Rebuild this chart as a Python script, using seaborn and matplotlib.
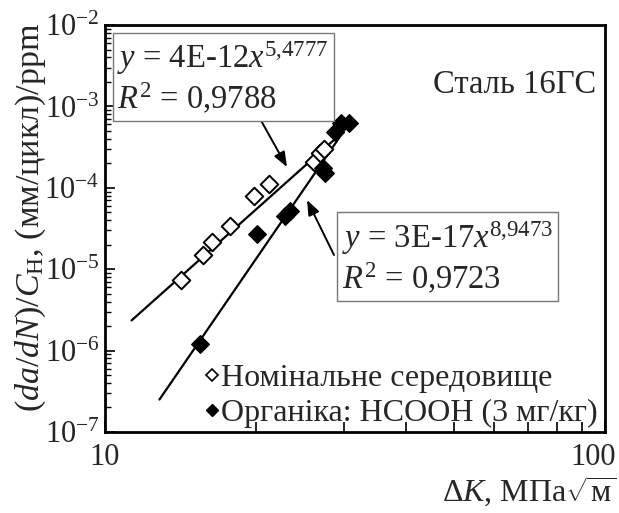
import numpy as np
import pandas as pd
import matplotlib
matplotlib.use("Agg")
import matplotlib.pyplot as plt
import seaborn as sns
from matplotlib.lines import Line2D
from matplotlib.ticker import FixedLocator, FixedFormatter, NullFormatter
from matplotlib.transforms import ScaledTranslation

# --- data ---
dk_nominal = [14.2, 15.7, 16.4, 17.8, 19.9, 21.3, 26.2, 26.9, 27.4]
rate_nominal = [7.3e-6, 1.5e-5, 2.15e-5, 3.4e-5, 7.9e-5, 1.1e-4, 2.1e-4, 2.7e-4, 3.0e-4]

dk_organic = [15.5, 20.1, 22.9, 23.4, 27.3, 27.5, 28.8, 29.7, 30.8]
rate_organic = [1.2e-6, 2.7e-5, 4.5e-5, 5.2e-5, 1.75e-4, 1.5e-4, 4.9e-4, 6.2e-4, 6.2e-4]

# power-law fits shown on the chart: y = a * x^b
fit_nominal = (4e-12, 5.4777, 11.3, 29.0)
fit_organic = (3e-17, 8.9473, 12.85, 31.0)

x_ticks = [10, 100]
x_tick_labels = ["10", "100"]

label_nominal = "Номінальне середовище"
label_organic = "Органіка: HCOOH (3 мг/кг)"

sns.set_style("ticks")
plt.rcParams["font.family"] = ["Liberation Serif", "DejaVu Serif"]
plt.rcParams["mathtext.fontset"] = "custom"
plt.rcParams["mathtext.rm"] = "Liberation Serif"
plt.rcParams["mathtext.it"] = "Liberation Serif:italic"
plt.rcParams["mathtext.bf"] = "Liberation Serif:bold"
plt.rcParams["axes.unicode_minus"] = False

fig = plt.figure(figsize=(6.19, 5.13), dpi=100)
ax = fig.add_axes([105 / 619, 1 - 432 / 513, 500 / 619, 407 / 513])

# fit lines
for a, b, x0, x1 in (fit_nominal, fit_organic):
    xs = np.geomspace(x0, x1, 50)
    sns.lineplot(x=xs, y=a * xs ** b, color="black", lw=1.6, ax=ax,
                 legend=False, zorder=2)

df_nom = pd.DataFrame({"dk": dk_nominal, "rate": rate_nominal})
df_org = pd.DataFrame({"dk": dk_organic, "rate": rate_organic})
sns.scatterplot(data=df_nom, x="dk", y="rate", marker="D", s=80,
                facecolor="white", edgecolor="black", linewidth=1.4,
                ax=ax, zorder=3)
sns.scatterplot(data=df_org, x="dk", y="rate", marker="D", s=80,
                color="black", edgecolor="black", linewidth=1.0,
                ax=ax, zorder=4)

ax.set_xscale("log")
ax.set_yscale("log")
ax.set_xlim(10, 100)
ax.set_ylim(1e-7, 1e-2)
ax.set_xlabel("")
ax.set_ylabel("")

ax.xaxis.set_major_locator(FixedLocator(x_ticks))
ax.xaxis.set_major_formatter(FixedFormatter(x_tick_labels))
ax.xaxis.set_minor_formatter(NullFormatter())

for sp in ax.spines.values():
    sp.set_linewidth(2)
    sp.set_color("black")
ax.tick_params(axis="both", which="both", direction="in",
               top=False, right=False, labelsize=22, color="black")
ax.tick_params(axis="x", which="major", length=8, width=1.2, pad=8)
ax.tick_params(axis="x", which="minor", length=7, width=1.2)
ax.tick_params(axis="y", which="major", length=7, width=1.2, pad=4)
ax.tick_params(axis="y", which="minor", length=4, width=1)
last = ax.get_xticklabels()[-1]
last.set_transform(last.get_transform()
                   + ScaledTranslation(-12 / 100, 0, fig.dpi_scale_trans))

# legend
handles = [
    Line2D([], [], ls="none", marker="D", ms=6, mfc="white", mec="black", mew=1.2),
    Line2D([], [], ls="none", marker="D", ms=6, mfc="black", mec="black"),
]
ax.legend(handles, [label_nominal, label_organic], loc="upper left",
          bbox_to_anchor=(0.201, 0.168), frameon=False, fontsize=23,
          handlelength=0.4, handletextpad=0.1, borderaxespad=0,
          labelspacing=0.17, borderpad=0)

# equation boxes
box = dict(boxstyle="square,pad=0.15", fc="white", ec="#777777", lw=1)
ax.text(0.025, 0.964, "$y$ = 4E-12$x^{5{,}4777}$\n$R^2$ = 0,9788",
        transform=ax.transAxes, ha="left", va="top", fontsize=23.5,
        linespacing=1.15, zorder=5, bbox=box)
ax.text(0.474, 0.523, "$y$ = 3E-17$x^{8{,}9473}$\n$R^2$ = 0,9723",
        transform=ax.transAxes, ha="left", va="top", fontsize=23.5,
        linespacing=1.15, zorder=5, bbox=box)

arrow = dict(arrowstyle="-|>,head_length=0.9,head_width=0.35",
             color="black", lw=1.4, shrinkA=0, shrinkB=0)
ax.annotate("", xy=(0.364, 0.651), xytext=(0.308, 0.774),
            xycoords="axes fraction", textcoords="axes fraction",
            arrowprops=arrow)
ax.annotate("", xy=(0.404, 0.570), xytext=(0.458, 0.435),
            xycoords="axes fraction", textcoords="axes fraction",
            arrowprops=arrow)

ax.text(0.982, 0.853, "Сталь 16ГС", transform=ax.transAxes,
        ha="right", va="center", fontsize=23.5)

fig.text(0.05, 0.576, "$(da/dN)/C_{\\mathrm{H}}$, (мм/цикл)/ppm",
         rotation=90, ha="center", va="center", fontsize=24.5)
fig.text(0.995, 0.042, "$\\Delta K$, МПа$\\sqrt{\\mathrm{м}}$",
         ha="right", va="center", fontsize=23)

fig.savefig("out.png", dpi=100)
